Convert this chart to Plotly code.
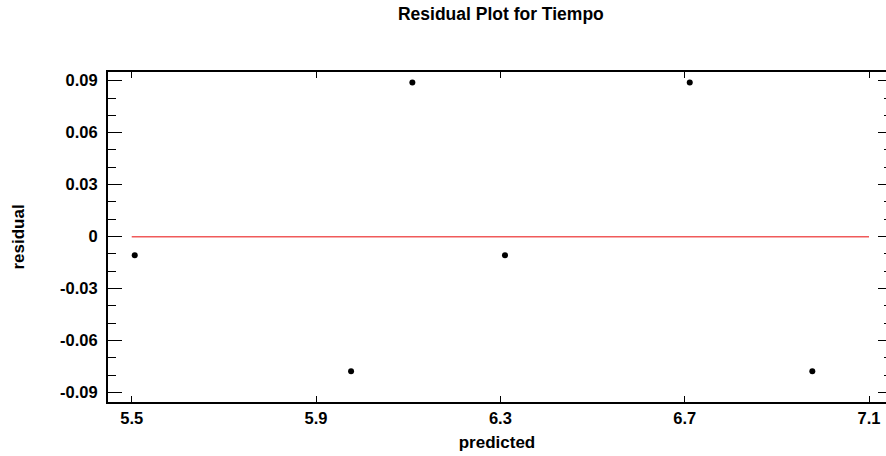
import plotly.graph_objects as go

# Data
predicted = [5.5065, 5.976, 6.109, 6.310, 6.711, 6.977]
residual = [-0.0108, -0.0776, 0.089, -0.0108, 0.089, -0.0776]

x_ticks = [5.5, 5.9, 6.3, 6.7, 7.1]
x_tick_labels = ["5.5", "5.9", "6.3", "6.7", "7.1"]
y_ticks = [-0.09, -0.06, -0.03, 0, 0.03, 0.06, 0.09]
y_tick_labels = ["-0.09", "-0.06", "-0.03", "0", "0.03", "0.06", "0.09"]

x_range = [5.4485, 7.1369]
y_range = [-0.0954, 0.0950]

FONT = "Liberation Sans, Arial, sans-serif"

fig = go.Figure()

# zero reference line across the tick span
fig.add_trace(go.Scatter(
    x=[x_ticks[0], x_ticks[-1]], y=[0, 0], mode="lines",
    line=dict(color="rgb(240,90,90)", width=1.5),
    hoverinfo="skip", showlegend=False,
))

fig.add_trace(go.Scatter(
    x=predicted, y=residual, mode="markers",
    marker=dict(color="black", size=6),
    showlegend=False,
))

# invisible trace to carry the right-hand tick axis
fig.add_trace(go.Scatter(
    x=predicted, y=residual, mode="markers", yaxis="y2",
    marker=dict(opacity=0), hoverinfo="skip", showlegend=False,
))

tick_font = dict(family=FONT, size=16.5, color="black", weight="bold")
label_font = dict(family=FONT, size=17, color="black", weight="bold")

fig.update_layout(
    width=886, height=456,
    margin=dict(l=108, r=0, t=72, b=54),
    paper_bgcolor="white", plot_bgcolor="white",
    title=dict(
        text="Residual Plot for Tiempo",
        font=dict(family=FONT, size=17.5, color="black", weight="bold"),
        x=0.505, xref="paper", xanchor="center",
        y=1 - 14 / 456, yref="container", yanchor="middle",
    ),
    xaxis=dict(
        range=x_range, tickvals=x_ticks, ticktext=x_tick_labels,
        ticks="inside", ticklen=6, tickwidth=1, tickcolor="black",
        showline=True, linecolor="black", linewidth=2, mirror="ticks",
        showgrid=False, zeroline=False,
        tickfont=tick_font, ticklabelstandoff=0,
        title=dict(text="predicted", font=label_font, standoff=10),
    ),
    yaxis=dict(
        range=y_range, tickvals=y_ticks, ticktext=y_tick_labels,
        ticks="inside", ticklen=14, tickwidth=1, tickcolor="black",
        minor=dict(dtick=0.01, tick0=0, ticks="inside", ticklen=8, tickwidth=1, tickcolor="black"),
        showline=True, linecolor="black", linewidth=2, mirror=False,
        showgrid=False, zeroline=False,
        tickfont=tick_font, ticklabelstandoff=5,
        title=dict(text="residual", font=label_font, standoff=31),
    ),
    yaxis2=dict(
        overlaying="y", side="right", range=y_range, tickvals=y_ticks,
        showticklabels=False, ticks="inside", ticklen=8, tickwidth=1, tickcolor="black",
        minor=dict(dtick=0.01, tick0=0, ticks="inside", ticklen=2, tickwidth=1, tickcolor="black"),
        showline=False, showgrid=False, zeroline=False,
    ),
)

fig.write_html("out.html")
